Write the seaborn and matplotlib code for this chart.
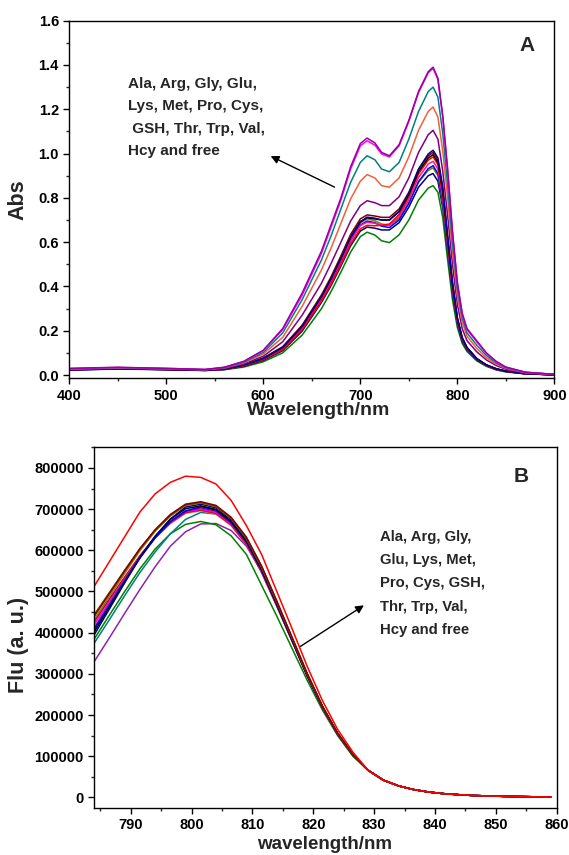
import numpy as np
import pandas as pd
import matplotlib
matplotlib.use("Agg")
import matplotlib.pyplot as plt
from matplotlib.ticker import MultipleLocator, FormatStrFormatter
import seaborn as sns

# ---- panel A: absorbance spectra ----
wl_a = [400, 450, 500, 540, 560, 580, 600, 620, 640, 660, 670, 680, 690, 700, 707, 715, 722, 730,
        740, 750, 760, 770, 775, 780, 785, 790, 795, 800, 805, 810, 820, 830, 840, 850, 870, 900]

abs_purple = [0.030, 0.035, 0.030, 0.025, 0.035, 0.062, 0.112, 0.210, 0.370, 0.560, 0.680, 0.800, 0.940, 1.045, 1.070, 1.048,
              1.005, 0.990, 1.040, 1.150, 1.280, 1.370, 1.390, 1.340, 1.170, 0.930, 0.650, 0.420, 0.280, 0.210, 0.155, 0.100,
              0.062, 0.036, 0.013, 0.003]
abs_magenta = [0.029, 0.034, 0.030, 0.025, 0.035, 0.061, 0.110, 0.205, 0.360, 0.550, 0.670, 0.790, 0.930, 1.035, 1.058, 1.038,
               0.998, 0.985, 1.035, 1.145, 1.275, 1.365, 1.385, 1.335, 1.165, 0.925, 0.645, 0.415, 0.275, 0.205, 0.150, 0.097,
               0.060, 0.035, 0.012, 0.003]
abs_teal = [0.028, 0.033, 0.028, 0.024, 0.033, 0.058, 0.102, 0.190, 0.340, 0.520, 0.630, 0.750, 0.870, 0.960, 0.990, 0.972,
            0.930, 0.918, 0.960, 1.065, 1.190, 1.280, 1.300, 1.255, 1.090, 0.860, 0.600, 0.390, 0.260, 0.190, 0.135, 0.088,
            0.055, 0.033, 0.012, 0.003]
abs_coral = [0.027, 0.032, 0.028, 0.024, 0.032, 0.055, 0.095, 0.170, 0.310, 0.475, 0.575, 0.685, 0.795, 0.875, 0.905, 0.890,
             0.855, 0.848, 0.890, 0.985, 1.105, 1.190, 1.210, 1.165, 1.010, 0.800, 0.560, 0.360, 0.240, 0.175, 0.120, 0.078,
             0.049, 0.030, 0.011, 0.002]
abs_violet = [0.026, 0.031, 0.027, 0.023, 0.030, 0.050, 0.085, 0.150, 0.270, 0.415, 0.505, 0.600, 0.695, 0.765, 0.787, 0.778,
              0.765, 0.765, 0.805, 0.890, 1.005, 1.085, 1.105, 1.065, 0.920, 0.720, 0.500, 0.320, 0.210, 0.155, 0.105, 0.068,
              0.043, 0.026, 0.009, 0.002]
abs_navy = [0.025, 0.030, 0.026, 0.022, 0.028, 0.045, 0.075, 0.125, 0.220, 0.355, 0.435, 0.525, 0.620, 0.690, 0.713, 0.708,
            0.700, 0.700, 0.740, 0.820, 0.930, 0.998, 1.015, 0.980, 0.850, 0.630, 0.420, 0.260, 0.170, 0.125, 0.075, 0.046,
            0.029, 0.018, 0.007, 0.001]
abs_maroon = [0.025, 0.030, 0.026, 0.022, 0.028, 0.046, 0.077, 0.128, 0.225, 0.362, 0.445, 0.538, 0.635, 0.705, 0.723, 0.718,
              0.712, 0.712, 0.750, 0.825, 0.928, 0.990, 1.005, 0.970, 0.840, 0.625, 0.415, 0.258, 0.168, 0.123, 0.074, 0.045,
              0.028, 0.018, 0.007, 0.001]
abs_black = [0.024, 0.029, 0.025, 0.022, 0.027, 0.045, 0.075, 0.125, 0.220, 0.355, 0.438, 0.530, 0.625, 0.693, 0.710, 0.705,
             0.700, 0.700, 0.737, 0.815, 0.918, 0.980, 0.995, 0.960, 0.830, 0.615, 0.410, 0.255, 0.166, 0.122, 0.073, 0.045,
             0.028, 0.017, 0.006, 0.001]
abs_red = [0.024, 0.029, 0.025, 0.021, 0.026, 0.042, 0.070, 0.115, 0.205, 0.335, 0.412, 0.500, 0.592, 0.660, 0.676, 0.674,
           0.676, 0.682, 0.725, 0.805, 0.908, 0.970, 0.985, 0.950, 0.820, 0.610, 0.405, 0.252, 0.165, 0.121, 0.073, 0.044,
           0.027, 0.017, 0.006, 0.001]
abs_pink = [0.025, 0.030, 0.026, 0.022, 0.027, 0.044, 0.072, 0.120, 0.212, 0.345, 0.425, 0.515, 0.608, 0.675, 0.690, 0.685,
            0.676, 0.676, 0.715, 0.792, 0.892, 0.952, 0.965, 0.930, 0.800, 0.595, 0.395, 0.248, 0.163, 0.120, 0.072, 0.044,
            0.027, 0.017, 0.006, 0.001]
abs_blue = [0.023, 0.028, 0.025, 0.021, 0.026, 0.043, 0.071, 0.118, 0.210, 0.342, 0.422, 0.512, 0.606, 0.677, 0.695, 0.688,
            0.672, 0.666, 0.700, 0.775, 0.873, 0.932, 0.945, 0.910, 0.785, 0.580, 0.385, 0.240, 0.158, 0.117, 0.070, 0.043,
            0.026, 0.016, 0.006, 0.001]
abs_olive = [0.024, 0.029, 0.025, 0.021, 0.026, 0.043, 0.071, 0.118, 0.210, 0.345, 0.427, 0.520, 0.615, 0.687, 0.705, 0.697,
             0.682, 0.676, 0.707, 0.778, 0.870, 0.924, 0.935, 0.900, 0.775, 0.575, 0.380, 0.238, 0.157, 0.116, 0.070, 0.043,
             0.026, 0.016, 0.006, 0.001]
abs_navy2 = [0.023, 0.028, 0.024, 0.021, 0.025, 0.040, 0.066, 0.110, 0.198, 0.328, 0.405, 0.492, 0.583, 0.650, 0.668, 0.663,
             0.655, 0.655, 0.688, 0.758, 0.848, 0.900, 0.910, 0.875, 0.755, 0.560, 0.370, 0.232, 0.153, 0.113, 0.068, 0.042,
             0.025, 0.016, 0.006, 0.001]
abs_green = [0.022, 0.027, 0.024, 0.020, 0.024, 0.036, 0.060, 0.100, 0.180, 0.300, 0.378, 0.465, 0.555, 0.625, 0.645, 0.632,
             0.606, 0.598, 0.633, 0.700, 0.790, 0.844, 0.855, 0.825, 0.710, 0.520, 0.340, 0.215, 0.143, 0.106, 0.064, 0.039,
             0.023, 0.014, 0.005, 0.001]

curves_a = {
    "green": abs_green, "navy2": abs_navy2, "olive": abs_olive, "blue": abs_blue, "pink": abs_pink,
    "red": abs_red, "black": abs_black, "maroon": abs_maroon, "navy": abs_navy, "violet": abs_violet,
    "coral": abs_coral, "teal": abs_teal, "magenta": abs_magenta, "purple": abs_purple,
}
colors_a = {
    "green": "#008000", "navy2": "#000080", "olive": "#808000", "blue": "#0000FF", "pink": "#FF1493",
    "red": "#FF0000", "black": "#000000", "maroon": "#800000", "navy": "#00008B", "violet": "#800080",
    "coral": "#F0603C", "teal": "#008080", "magenta": "#FF00FF", "purple": "#9900A0",
}

# ---- panel B: fluorescence spectra (values in thousands) ----
wl_b = np.arange(784, 860, 2.5)  # 784 ... 859
# shared tail 829 ... 859 (all curves overlap there)
flu_tail = [66, 42, 28, 19, 13, 9, 6.5, 4.5, 3.5, 2.5, 2, 1.5, 1]

flu_red = [513, 573, 633, 693, 737, 765, 780, 777, 761, 721, 660, 590, 500, 410, 318, 235, 165, 110]
flu_maroon = [440, 495, 550, 604, 650, 687, 712, 718, 709, 680, 632, 562, 477, 389, 301, 222, 156, 105]
flu_brown = [444, 498, 552, 604, 649, 685, 710, 716, 707, 678, 630, 560, 475, 388, 300, 221, 156, 105]
flu_olive = [432, 488, 544, 599, 646, 683, 709, 715, 706, 677, 629, 559, 474, 387, 299, 221, 155, 104]
flu_black = [402, 463, 524, 583, 634, 675, 701, 708, 699, 670, 622, 553, 469, 383, 296, 219, 154, 103]
flu_navy = [395, 458, 521, 582, 634, 676, 705, 712, 703, 674, 626, 556, 472, 385, 298, 220, 155, 104]
flu_blue = [408, 467, 525, 581, 630, 669, 695, 706, 698, 669, 621, 552, 468, 382, 296, 219, 154, 103]
flu_magenta = [420, 476, 531, 585, 631, 668, 694, 700, 692, 664, 617, 549, 466, 381, 295, 218, 153, 103]
flu_violet = [412, 470, 528, 583, 632, 670, 696, 703, 695, 666, 619, 550, 467, 381, 295, 218, 153, 103]
flu_coral = [425, 479, 533, 585, 630, 665, 690, 696, 688, 660, 613, 546, 464, 380, 294, 217, 153, 103]
flu_crimson = [428, 482, 535, 587, 632, 667, 692, 698, 690, 662, 615, 547, 465, 380, 294, 217, 153, 103]
flu_teal = [375, 432, 490, 546, 596, 640, 675, 692, 688, 664, 620, 551, 468, 382, 296, 219, 154, 103]
flu_green = [385, 443, 500, 555, 603, 640, 663, 670, 662, 635, 590, 515, 440, 362, 284, 212, 150, 100]
flu_purple = [330, 388, 447, 505, 560, 610, 645, 664, 665, 648, 610, 550, 470, 385, 298, 220, 155, 104]

curves_b = {
    "purple": flu_purple, "green": flu_green, "teal": flu_teal, "coral": flu_coral, "crimson": flu_crimson,
    "magenta": flu_magenta, "violet": flu_violet, "blue": flu_blue, "black": flu_black, "navy": flu_navy,
    "olive": flu_olive, "brown": flu_brown, "maroon": flu_maroon, "red": flu_red,
}
colors_b = {
    "purple": "#8E24AA", "green": "#008000", "teal": "#008080", "coral": "#F0603C", "crimson": "#C00000",
    "magenta": "#FF00FF", "violet": "#800080", "blue": "#0000FF", "black": "#000000", "navy": "#000080",
    "olive": "#808000", "brown": "#7B3F00", "maroon": "#800000", "red": "#FF0000",
}

label_text_a = "Ala, Arg, Gly, Glu,\nLys, Met, Pro, Cys,\n GSH, Thr, Trp, Val,\nHcy and free"
label_text_b = "Ala, Arg, Gly,\nGlu, Lys, Met,\nPro, Cys, GSH,\nThr, Trp, Val,\nHcy and free"

# long-form tables
df_a = pd.concat([pd.DataFrame({"wl": wl_a, "val": v, "name": k}) for k, v in curves_a.items()])
df_b = pd.concat([pd.DataFrame({"wl": wl_b, "val": np.array(v + flu_tail) * 1000, "name": k})
                  for k, v in curves_b.items()])

sns.set_style("ticks")
plt.rcParams["font.family"] = ["Liberation Sans", "DejaVu Sans"]
plt.rcParams["font.weight"] = "bold"

fig = plt.figure(figsize=(5.69, 8.55), dpi=100)
ax1 = fig.add_axes([0.1218, 0.5575, 0.8524, 0.4183])
ax2 = fig.add_axes([0.1657, 0.0553, 0.8127, 0.4215])

sns.lineplot(data=df_a, x="wl", y="val", hue="name", palette=colors_a, legend=False,
             estimator=None, sort=False, lw=1.1, ax=ax1)
sns.lineplot(data=df_b, x="wl", y="val", hue="name", palette=colors_b, legend=False,
             estimator=None, sort=False, lw=1.1, ax=ax2)

ax1.set_xlim(400, 900)
ax1.set_ylim(-0.015, 1.6)
ax1.xaxis.set_major_locator(MultipleLocator(100))
ax1.xaxis.set_minor_locator(MultipleLocator(50))
ax1.yaxis.set_major_locator(MultipleLocator(0.2))
ax1.yaxis.set_minor_locator(MultipleLocator(0.1))
ax1.yaxis.set_major_formatter(FormatStrFormatter("%.1f"))
ax1.set_xlabel("Wavelength/nm", fontsize=14, fontweight="bold")
ax1.set_ylabel("Abs", fontsize=15.5, fontweight="bold")
ax1.xaxis.set_label_coords(0.515, -0.066)
ax1.yaxis.set_label_coords(-0.085, 0.5)

ax2.set_xlim(784, 860)
ax2.set_ylim(-25000, 850000)
ax2.xaxis.set_major_locator(MultipleLocator(10))
ax2.xaxis.set_minor_locator(MultipleLocator(5))
ax2.yaxis.set_major_locator(MultipleLocator(100000))
ax2.yaxis.set_minor_locator(MultipleLocator(50000))
ax2.ticklabel_format(style="plain", axis="y", useOffset=False)
ax2.set_xlabel("wavelength/nm", fontsize=13.5, fontweight="bold")
ax2.set_ylabel("Flu (a. u.)", fontsize=15.5, fontweight="bold")
ax2.xaxis.set_label_coords(0.499, -0.0785)
ax2.yaxis.set_label_coords(-0.141, 0.451)

for ax in (ax1, ax2):
    for s in ax.spines.values():
        s.set_visible(True)
        s.set_linewidth(1.0)
        s.set_color("black")
    ax.tick_params(which="major", direction="out", length=4, width=1, labelsize=10.5,
                   top=False, right=False, colors="black")
    ax.tick_params(which="minor", direction="out", length=2.5, width=1, top=False, right=False)
    for lab in ax.get_xticklabels() + ax.get_yticklabels():
        lab.set_fontweight("bold")

ax1.text(872, 1.49, "A", fontsize=15, fontweight="bold", ha="center", va="center")
ax1.text(461, 1.345, label_text_a, fontsize=11, fontweight="bold", ha="left", va="top", linespacing=1.75)
ax1.annotate("", xy=(605, 0.994), xytext=(676, 0.843),
             arrowprops=dict(arrowstyle="-|>", color="black", lw=1, mutation_scale=12))

ax2.text(854.2, 778000, "B", fontsize=15, fontweight="bold", ha="center", va="center")
ax2.text(831, 650000, label_text_b, fontsize=10.7, fontweight="bold", ha="left", va="top", linespacing=1.85)
ax2.annotate("", xy=(828.7, 470000), xytext=(817.5, 363000),
             arrowprops=dict(arrowstyle="-|>", color="black", lw=1, mutation_scale=12))

fig.savefig("out.png", dpi=100)
